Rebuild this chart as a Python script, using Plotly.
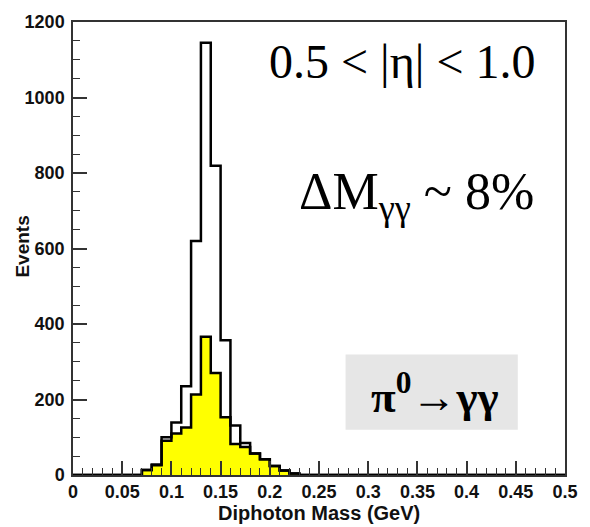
import plotly.graph_objects as go

# ---- data (bin width 0.01 GeV, left edges) ----
bin_left = [round(0.01 * i, 2) for i in range(50)]
all_counts_nonzero = {0.07: 13, 0.08: 28, 0.09: 100, 0.10: 139, 0.11: 235, 0.12: 620,
                      0.13: 1145, 0.14: 819, 0.15: 357, 0.16: 131, 0.17: 85, 0.18: 57,
                      0.19: 42, 0.20: 24, 0.21: 12, 0.22: 4}
sel_counts_nonzero = {0.07: 13, 0.08: 26, 0.09: 91, 0.10: 110, 0.11: 126, 0.12: 213,
                      0.13: 366, 0.14: 270, 0.15: 153, 0.16: 82, 0.17: 74, 0.18: 57,
                      0.19: 42, 0.20: 24, 0.21: 12, 0.22: 4}
all_counts = [all_counts_nonzero.get(b, 0) for b in bin_left]
sel_counts = [sel_counts_nonzero.get(b, 0) for b in bin_left]

x_ticks = [0, 0.05, 0.1, 0.15, 0.2, 0.25, 0.3, 0.35, 0.4, 0.45, 0.5]
x_ticktext = ["0", "0.05", "0.1", "0.15", "0.2", "0.25", "0.3", "0.35", "0.4", "0.45", "0.5"]
y_ticks = [0, 200, 400, 600, 800, 1000, 1200]
y_ticktext = ["0", "200", "400", "600", "800", "1000", "1200"]

# step arrays (left edges + final right edge)
xs = bin_left + [0.5]
ys_all = all_counts + [all_counts[-1]]
ys_sel = sel_counts + [sel_counts[-1]]

fig = go.Figure()
fig.add_trace(go.Scatter(x=xs, y=ys_sel, mode="lines", line_shape="hv",
                         line=dict(color="black", width=2.5), fill="tozeroy",
                         fillcolor="#ffff00", hoverinfo="skip", showlegend=False))
fig.add_trace(go.Scatter(x=xs, y=ys_all, mode="lines", line_shape="hv",
                         line=dict(color="black", width=2.5),
                         hoverinfo="skip", showlegend=False))

sans = "Liberation Sans, Arial, sans-serif"
tickfont = dict(family=sans, size=18, color="#111", weight=700)

fig.update_xaxes(range=[0, 0.5], tickvals=x_ticks, ticktext=["<b>%s</b>" % t for t in x_ticktext],
                 ticks="inside", ticklen=14, tickwidth=1.5, tickcolor="#333",
                 minor=dict(ticks="inside", ticklen=7, tickwidth=1.2, dtick=0.01, tickcolor="#333"),
                 showline=True, linecolor="#333", linewidth=1.5, mirror=True,
                 showgrid=False, zeroline=False, tickfont=tickfont, ticklabelstandoff=0)
fig.update_yaxes(range=[0, 1200], tickvals=y_ticks, ticktext=["<b>%s</b>" % t for t in y_ticktext],
                 ticks="inside", ticklen=14, tickwidth=1.5, tickcolor="#333",
                 minor=dict(ticks="inside", ticklen=7, tickwidth=1.2, dtick=50, tickcolor="#333"),
                 showline=True, linecolor="#333", linewidth=1.5, mirror=True,
                 showgrid=False, zeroline=False, tickfont=tickfont, ticklabelstandoff=3)

# grey box behind the pi0 label
fig.add_shape(type="rect", xref="x", yref="y", x0=0.277, x1=0.452, y0=120, y1=319,
              fillcolor="#e6e6e6", line=dict(width=0), layer="below")

serif = "Liberation Serif, Times New Roman, serif"
fig.add_annotation(text="0.5 < |η| < 1.0", xref="paper", yref="paper", x=0.669, y=0.912,
                   showarrow=False, font=dict(family=serif, size=48, color="black"),
                   xanchor="center", yanchor="middle")
fig.add_annotation(text="ΔM<sub>γγ</sub> ~ 8%", xref="paper", yref="paper", x=0.699, y=0.617,
                   showarrow=False, font=dict(family=serif, size=52, color="black"),
                   xanchor="center", yanchor="middle")
fig.add_annotation(text="<b>π<sup>0</sup>→γγ</b>", xref="paper", yref="paper", x=0.735, y=0.18,
                   showarrow=False, font=dict(family=serif, size=45, color="black"),
                   xanchor="center", yanchor="middle")

# axis titles
fig.add_annotation(text="<b>Diphoton Mass (GeV)</b>", xref="paper", yref="paper",
                   x=0.5, y=-0.083, showarrow=False, yanchor="middle",
                   font=dict(family=sans, size=20, color="#111"))
fig.add_annotation(text="<b>Events</b>", xref="paper", yref="paper",
                   x=-0.103, y=0.505, showarrow=False, textangle=-90, xanchor="center",
                   font=dict(family=sans, size=19, color="#111"))

fig.update_layout(width=590, height=527, margin=dict(l=73, r=19, t=16, b=52),
                  plot_bgcolor="white", paper_bgcolor="white", showlegend=False)

fig.write_html("out.html")
